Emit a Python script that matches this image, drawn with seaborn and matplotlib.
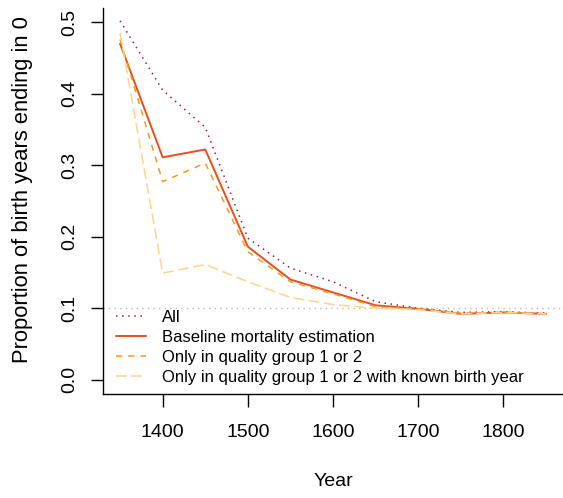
import matplotlib
matplotlib.use("Agg")
import matplotlib.pyplot as plt
import numpy as np
import pandas as pd
import seaborn as sns

years = [1350, 1400, 1450, 1500, 1550, 1600, 1650, 1700, 1750, 1800, 1850]
prop_all = [0.502, 0.405, 0.353, 0.198, 0.156, 0.137, 0.109, 0.100, 0.094, 0.095, 0.093]
prop_baseline = [0.470, 0.311, 0.322, 0.186, 0.140, 0.122, 0.104, 0.099, 0.092, 0.094, 0.092]
prop_quality = [0.476, 0.277, 0.303, 0.179, 0.137, 0.120, 0.102, 0.099, 0.093, 0.094, 0.092]
prop_known = [0.485, 0.149, 0.161, 0.137, 0.115, 0.105, 0.100, 0.098, 0.092, 0.094, 0.092]

labels = ["All", "Baseline mortality estimation", "Only in quality group 1 or 2",
          "Only in quality group 1 or 2 with known birth year"]
colors = ["#A8174E", "#E6501F", "#F59A1C", "#FCD48C"]
dash_styles = [(1, 3), "", (4, 4), (7, 3)]

sns.set_style("ticks")
plt.rcParams['font.family'] = ['Liberation Sans', 'DejaVu Sans']
plt.rcParams['font.size'] = 14
plt.rcParams['text.color'] = 'black'
plt.rcParams['axes.labelcolor'] = 'black'
plt.rcParams['xtick.color'] = 'black'
plt.rcParams['ytick.color'] = 'black'

fig = plt.figure(figsize=(5.63, 4.98), dpi=100)
ax = fig.add_axes([0.183, 0.209, 0.817, 0.775])

ax.axhline(0.1, color="#BBBBBB", linestyle=(0, (1, 3)), linewidth=1.0, zorder=1)

for lab, vals, col, ds in zip(labels, [prop_all, prop_baseline, prop_quality, prop_known],
                              colors, dash_styles):
    df = pd.DataFrame({"year": years, "prop": vals})
    sns.lineplot(data=df, x="year", y="prop", color=col, linewidth=1.1,
                 label=lab, ax=ax)
    l = ax.lines[-1]
    if ds == "":
        l.set_linestyle("-")
        l.set_linewidth(1.4)
    else:
        l.set_dashes(ds)

ax.set_xlim(1330, 1870)
ax.set_ylim(-0.02, 0.52)
ax.set_xticks([1400, 1500, 1600, 1700, 1800])
ax.set_yticks([0.0, 0.1, 0.2, 0.3, 0.4, 0.5])
ax.set_yticklabels(["0.0", "0.1", "0.2", "0.3", "0.4", "0.5"], rotation=90, va="center")
ax.tick_params(axis="both", direction="out", length=9, width=1, colors="black", labelsize=14)
ax.tick_params(axis="x", pad=13)
ax.tick_params(axis="y", pad=8.5)

for side in ["top", "right"]:
    ax.spines[side].set_visible(False)
for side in ["left", "bottom"]:
    ax.spines[side].set_color("black")
    ax.spines[side].set_linewidth(1.0)

ax.set_xlabel("Year", fontsize=14, labelpad=23)
ax.set_ylabel("Proportion of birth years ending in 0", fontsize=15.8)
ax.yaxis.set_label_coords(-0.153, 0.53)

ax.legend(loc="lower left", bbox_to_anchor=(0.0, -0.012), frameon=False, fontsize=12,
          handlelength=1.8, handletextpad=0.95, labelspacing=0.3, borderpad=0.3)

fig.savefig("out.png", dpi=100)
